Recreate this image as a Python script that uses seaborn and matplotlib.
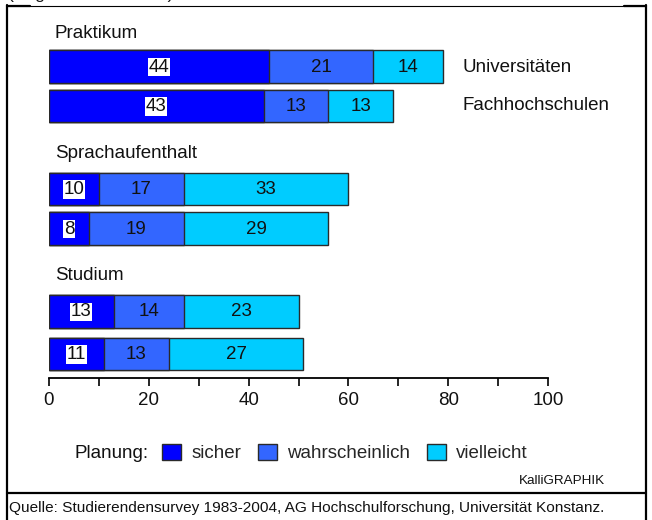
import matplotlib
matplotlib.use("Agg")
import matplotlib.pyplot as plt
from matplotlib.lines import Line2D
from matplotlib.patches import Patch
from matplotlib.ticker import MultipleLocator
import seaborn as sns
import pandas as pd
import numpy as np

# ---- data ----
groups = ["Praktikum", "Sprachaufenthalt", "Studium"]
types = ["Universitäten", "Fachhochschulen"]
sicher = [44, 43, 10, 8, 13, 11]
wahrscheinlich = [21, 13, 17, 19, 14, 13]
vielleicht = [14, 13, 33, 29, 23, 27]
legend_labels = ["sicher", "wahrscheinlich", "vielleicht"]
legend_title = "Planung:"
x_ticks = [0, 20, 40, 60, 80, 100]
title_text = "(Angaben in Prozent)"
credit = "KalliGRAPHIK"
source = "Quelle: Studierendensurvey 1983-2004, AG Hochschulforschung, Universität Konstanz."

# ---- layout (positions in pixel-like row units) ----
row_pos = [66.5, 106, 189, 228.5, 311.5, 354]
group_label_pos = [33, 153, 275]
colors = ["#0000FF", "#3366FF", "#00CCFF"]
edge = "#2a2a2a"
FS = 13.5

sns.set_theme(style="white")
plt.rcParams["font.family"] = ["Liberation Sans", "DejaVu Sans"]

W, H = 652, 520
fig = plt.figure(figsize=(W / 100, H / 100), dpi=100)
ax = fig.add_axes([49 / W, 1 - 378 / H, (548 - 49) / W, (378 - 20) / H])

s = np.array(sicher)
w = np.array(wahrscheinlich)
v = np.array(vielleicht)
df = pd.DataFrame({
    "pos": row_pos,
    "c1": s,
    "c2": s + w,
    "c3": s + w + v,
})

for col, c in zip(["c3", "c2", "c1"], colors[::-1]):
    sns.barplot(data=df, x=col, y="pos", orient="h", native_scale=True,
                width=0.83, color=c, saturation=1, edgecolor=edge,
                linewidth=1.0, errorbar=None, ax=ax)

ax.set_xlim(0, 100)
ax.set_ylim(378, 20)

# value labels
for i, y in enumerate(row_pos):
    segs = [(0, s[i]), (s[i], w[i]), (s[i] + w[i], v[i])]
    for j, (start, val) in enumerate(segs):
        kw = {}
        if j == 0:
            kw["bbox"] = dict(facecolor="white", edgecolor="none", pad=0.4)
        ax.text(start + val / 2, y + 0.5, str(val), ha="center", va="center",
                fontsize=FS, color="#111111", **kw)

# group labels
for g, y in zip(groups, group_label_pos):
    ax.text(1.2, y, g, ha="left", va="center", fontsize=FS, color="#111111")

# type labels on right
for t, y in zip(types, [67, 106]):
    ax.text(82.8, y, t, ha="left", va="center", fontsize=FS, color="#111111",
            clip_on=False)

# axes styling
for sp in ["top", "right", "left"]:
    ax.spines[sp].set_visible(False)
ax.spines["bottom"].set_color("black")
ax.spines["bottom"].set_linewidth(1.3)
ax.set_xticks(x_ticks)
ax.set_xticklabels([str(t) for t in x_ticks])
ax.xaxis.set_minor_locator(MultipleLocator(10))
ax.tick_params(axis="x", which="both", direction="out", length=6, width=1.2,
               color="black", bottom=True, labelsize=FS, labelcolor="#111111",
               pad=4)
ax.set_yticks([])
ax.set_xlabel("")
ax.set_ylabel("")

# legend
fig.text(75 / W, 1 - 453 / H, legend_title, ha="left", va="center",
         fontsize=FS, color="#111111")
handles = [Patch(facecolor=c, edgecolor=edge, linewidth=1.0) for c in colors]
fig.legend(handles, legend_labels, loc="center left",
           bbox_to_anchor=(162 / W, 1 - 453 / H), ncol=3, frameon=False,
           fontsize=FS, handlelength=1.0, handleheight=1.0,
           handletextpad=0.55, columnspacing=0.9, borderpad=0,
           borderaxespad=0)

# credit and source
fig.text(605 / W, 1 - 481 / H, credit, ha="right", va="center", fontsize=9.7,
         color="#111111")
fig.text(9 / W, 1 - 508 / H, source, ha="left", va="center", fontsize=11.1,
         color="#111111")

# partial title at the very top (cut off by the picture edge, as in the source)
fig.text(8 / W, 1 + 1.5 / H, title_text, ha="left", va="baseline",
         fontsize=12.6, color="#111111")

# frame lines
def fline(x0, y0, x1, y1, lw):
    fig.add_artist(Line2D([x0 / W, x1 / W], [1 - y0 / H, 1 - y1 / H],
                          color="black", linewidth=lw,
                          transform=fig.transFigure))

fline(7, 5, 7, 520, 1.6)
fline(646, 5, 646, 520, 1.6)
fline(7, 5.5, 646, 5.5, 0.8)
fline(7, 5.5, 30, 5.5, 1.6)
fline(624, 5.5, 646, 5.5, 1.6)
fline(7, 493, 646, 493, 1.6)

fig.savefig("out.png", dpi=100)
